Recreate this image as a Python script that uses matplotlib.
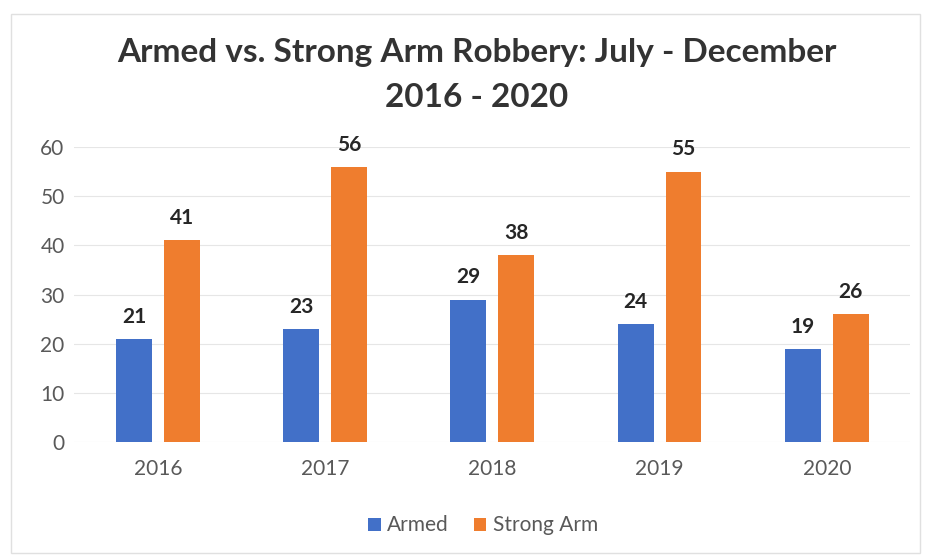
import numpy as np
import matplotlib.pyplot as plt
from matplotlib.patches import Rectangle

years = ['2016', '2017', '2018', '2019', '2020']
armed = [21, 23, 29, 24, 19]
strong_arm = [41, 56, 38, 55, 26]

blue = '#4270C8'
orange = '#EF7D2E'

plt.rcParams['font.family'] = ['Lato', 'DejaVu Sans']

fig = plt.figure(figsize=(9.29, 5.59), dpi=100)
ax = fig.add_axes([0.080, 0.209, 0.900, 0.528])

x = np.arange(len(years))
w = 0.215
b1 = ax.bar(x - 0.143, armed, w, color=blue, label='Armed')
b2 = ax.bar(x + 0.143, strong_arm, w, color=orange, label='Strong Arm')

for bars, vals in [(b1, armed), (b2, strong_arm)]:
    for r, v in zip(bars, vals):
        ax.text(r.get_x() + r.get_width() / 2, v + 4.5, str(v), ha='center',
                va='center', fontsize=15, fontweight='bold', color='#262626')

ax.set_xlim(-0.5, 4.5)
ax.set_ylim(0, 60)
ax.set_yticks(range(0, 61, 10))
ax.set_xticks(x)
ax.set_xticklabels(years)
ax.tick_params(length=0, labelsize=15, colors='#595959', pad=12)
ax.tick_params(axis='y', pad=7)
ax.yaxis.grid(True, color='#e6e6e6', linewidth=0.8)
ax.set_axisbelow(True)
for s in ax.spines.values():
    s.set_visible(False)

fig.text(0.513, 0.906, 'Armed vs. Strong Arm Robbery: July - December',
         ha='center', va='center', fontsize=24, fontweight='bold', color='#333333')
fig.text(0.513, 0.826, '2016 - 2020', ha='center', va='center',
         fontsize=24, fontweight='bold', color='#333333')

fig.legend(handles=[b1, b2], loc='center', bbox_to_anchor=(0.52, 0.06), ncol=2,
           frameon=False, fontsize=15, handlelength=0.6, handleheight=0.6,
           handletextpad=0.3, columnspacing=1.2, labelcolor='#595959')

# outer chart border
fig.patches.append(Rectangle((0.012, 0.01), 0.978, 0.965, transform=fig.transFigure,
                             fill=False, edgecolor='#e0e0e0', linewidth=1))

fig.savefig('out.png', dpi=100)
